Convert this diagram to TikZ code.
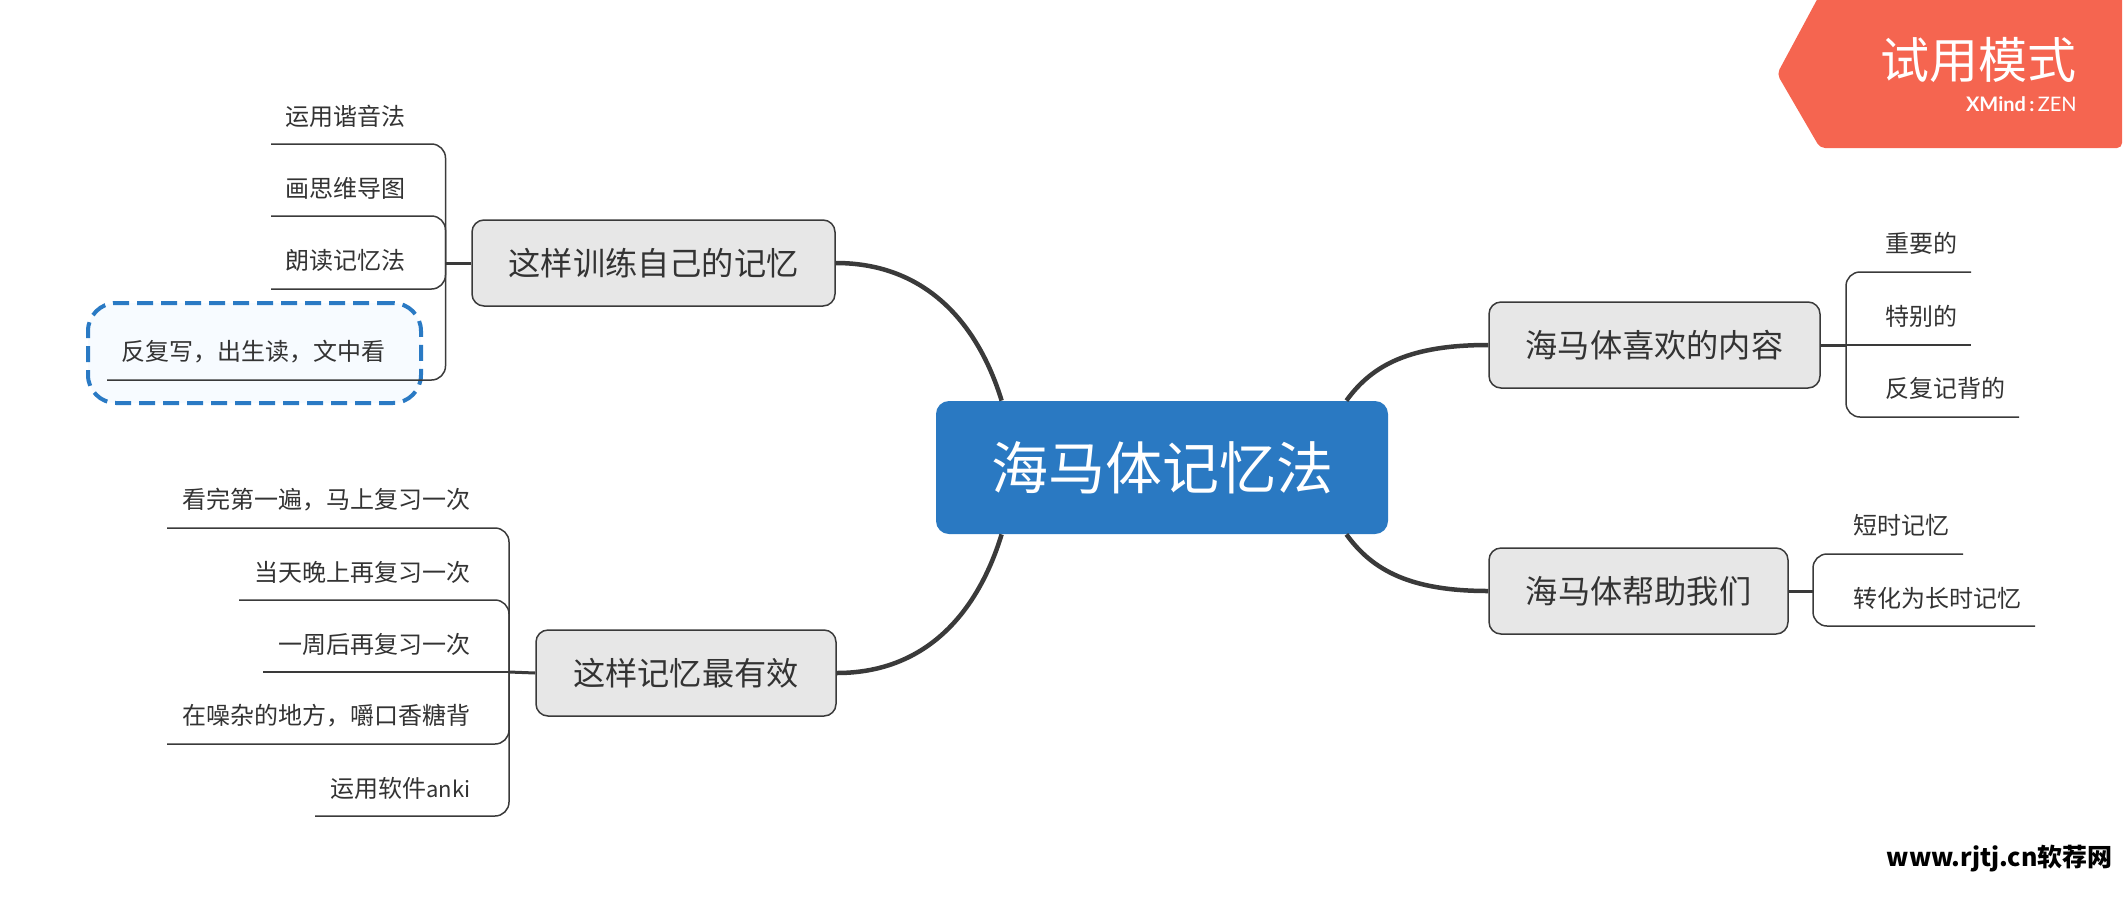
\documentclass[tikz,border=0pt]{standalone}
\usepackage{fontspec}
\usepackage{xcolor}
\usetikzlibrary{calc}
\setmainfont{Noto Sans CJK SC}
\newfontfamily\latofont{Lato}
\definecolor{ink}{HTML}{333333}
\definecolor{edge}{HTML}{3A3A3A}
\definecolor{rootblue}{HTML}{2A79C2}
\definecolor{boxgrey}{HTML}{E7E7E7}
\definecolor{hiliteblue}{HTML}{2A7AC4}
\definecolor{hilitefill}{HTML}{F7FBFF}
\definecolor{trial}{HTML}{F56550}
\tikzset{
  root/.style={rectangle, rounded corners=6.5pt, fill=rootblue, text=white, inner sep=0pt,
    minimum width=226pt, minimum height=66.5pt, font=\fontsize{28.5pt}{30pt}\selectfont},
  branch/.style={rectangle, rounded corners=6pt, fill=boxgrey, draw=edge, line width=0.75pt, text=ink,
    inner sep=0pt, minimum height=43pt, font=\fontsize{16.1pt}{18pt}\selectfont},
  leaf/.style={text=ink, inner sep=0pt, font=\fontsize{12pt}{14pt}\selectfont},
  hilite/.style={rectangle, rounded corners=14pt, fill=hilitefill, draw=hiliteblue, line width=2pt,
    dash pattern=on 8pt off 4pt, minimum width=166.5pt, minimum height=50pt},
  twig/.style={draw=edge, line width=0.75pt, rounded corners=7pt},
  limb/.style={draw=edge, line width=1.5pt},
  bough/.style={draw=edge, line width=2.25pt}
}

\begin{document}
\begin{tikzpicture}[x=0.5pt,y=-0.5pt]
  \useasboundingbox (0,0) rectangle (2123,905);

  \node[hilite] (mark) at (254.5,353) {};

  \node[root] (hippo) at (1162,467.5) {海马体记忆法};
  \node[branch, minimum width=181.5pt] (train) at (653.5,263) {这样训练自己的记忆};
  \node[branch, minimum width=150pt] (recall) at (686,673) {这样记忆最有效};
  \node[branch, minimum width=165.5pt] (likes) at (1654.5,345) {海马体喜欢的内容};
  \node[branch, minimum width=149.5pt] (helps) at (1638.5,591) {海马体帮助我们};

  % boughs
  \coordinate (rootNW) at ($(hippo.north west)+(66,0)$);
  \coordinate (rootSW) at ($(hippo.south west)+(66,0)$);
  \coordinate (rootNE) at ($(hippo.north east)+(-42,0)$);
  \coordinate (rootSE) at ($(hippo.south east)+(-42,0)$);
  \draw[bough] (rootNW) .. controls +(-22,-72) and +(94,0) .. (train.east);
  \draw[bough] (rootSW) .. controls +(-22,72) and +(94,0) .. (recall.east);
  \draw[bough] (rootNE) .. controls +(26,-36) and +(-78,0) .. (likes.west);
  \draw[bough] (rootSE) .. controls +(26,36) and +(-78,0) .. (helps.west);

  % upper left
  \coordinate (trainHub) at (445.5,263);
  \coordinate (t1) at (271,144);
  \coordinate (t2) at (271,216);
  \coordinate (t3) at (271,289);
  \coordinate (t4) at (107,380);
  \draw[limb] (train.west) -- (trainHub);
  \draw[twig] (trainHub) |- (t1);
  \draw[twig] (trainHub) |- (t2);
  \draw[twig] (trainHub) |- (t3);
  \draw[twig] (trainHub) |- (t4);
  \node[leaf, anchor=west] (t1txt) at (285,116) {运用谐音法};
  \node[leaf, anchor=west] (t2txt) at (285,188) {画思维导图};
  \node[leaf, anchor=west] (t3txt) at (285,260) {朗读记忆法};
  \node[leaf, anchor=west] (t4txt) at (121,352) {反复写，出生读，文中看};

  % lower left
  \coordinate (recallHub) at (509,672);
  \coordinate (r1) at (167,528);
  \coordinate (r2) at (239,600);
  \coordinate (r3) at (263,672);
  \coordinate (r4) at (167,744);
  \coordinate (r5) at (315,816);
  \draw[limb] (recall.west) -- (recallHub);
  \draw[twig] (recallHub) |- (r1);
  \draw[twig] (recallHub) |- (r2);
  \draw[twig] (recallHub) -- (r3);
  \draw[twig] (recallHub) |- (r4);
  \draw[twig] (recallHub) |- (r5);
  \node[leaf, anchor=east] (r1txt) at (471,500) {看完第一遍，马上复习一次};
  \node[leaf, anchor=east] (r2txt) at (471,572) {当天晚上再复习一次};
  \node[leaf, anchor=east] (r3txt) at (471,644) {一周后再复习一次};
  \node[leaf, anchor=east] (r4txt) at (471,716) {在噪杂的地方，嚼口香糖背};
  \node[leaf, anchor=east] (r5txt) at (471,788) {运用软件{\fontsize{11pt}{14pt}\selectfont anki}};

  % upper right
  \coordinate (likesHub) at (1846,345);
  \coordinate (l1) at (1971,272);
  \coordinate (l2) at (1971,345);
  \coordinate (l3) at (2019,417);
  \draw[limb] (likes.east) -- (likesHub);
  \draw[twig] (likesHub) |- (l1);
  \draw[twig] (likesHub) -- (l2);
  \draw[twig] (likesHub) |- (l3);
  \node[leaf, anchor=west] (l1txt) at (1885,243) {重要的};
  \node[leaf, anchor=west] (l2txt) at (1885,316) {特别的};
  \node[leaf, anchor=west] (l3txt) at (1885,388) {反复记背的};

  % lower right
  \coordinate (helpsHub) at (1813,591);
  \coordinate (h1) at (1963,554);
  \coordinate (h2) at (2035,626);
  \draw[limb] (helps.east) -- (helpsHub);
  \draw[twig] (helpsHub) |- (h1);
  \draw[twig] (helpsHub) |- (h2);
  \node[leaf, anchor=west] (h1txt) at (1853,525) {短时记忆};
  \node[leaf, anchor=west] (h2txt) at (1853,598) {转化为长时记忆};

  % trial banner
  \fill[trial, rounded corners=2.5pt] (1820,-6) -- (2122,-6) -- (2122,148) -- (1820,148) -- (1777,74) -- cycle;
  \node[text=white, anchor=east, inner sep=0pt, font=\fontsize{24.5pt}{26pt}\selectfont] (trialtxt) at (2077,60) {试用模式};
  \node[text=white, anchor=east, inner sep=0pt, font=\fontsize{10pt}{11pt}\latofont] (zentxt) at (2077,104) {\textbf{XMind\,:\,}ZEN};

  \node[text=black, anchor=east, inner sep=0pt, font=\fontsize{12.5pt}{14pt}\bfseries] (siteurl) at (2113,859) {www.rjtj.cn软荐网};
\end{tikzpicture}
\end{document}
